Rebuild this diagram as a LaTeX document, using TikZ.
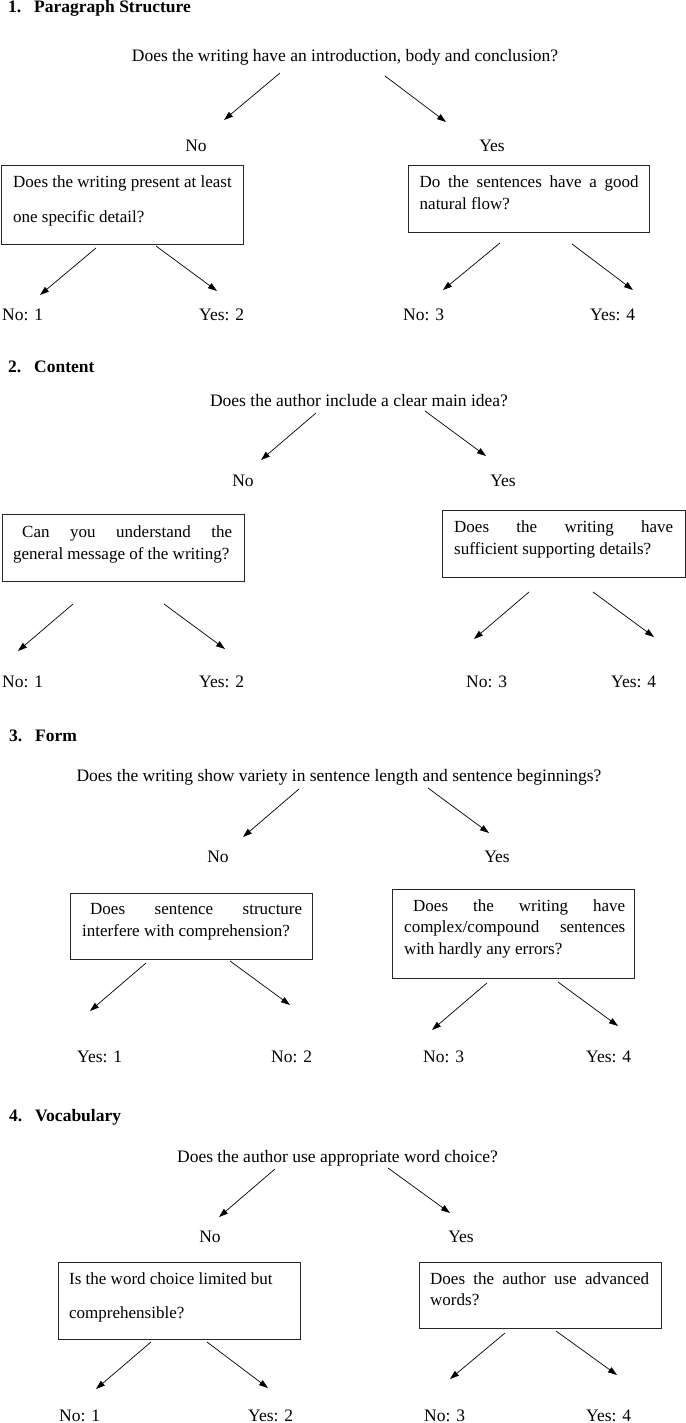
\documentclass[tikz,border=0pt]{standalone}
\usepackage{fontspec}
\setmainfont{Liberation Serif}
\usetikzlibrary{arrows.meta}
\begin{document}
\begin{tikzpicture}[x=1pt,y=-1pt,
  txt/.style={inner sep=0pt, font=\fontsize{17.5}{21}\selectfont},
  lbl/.style={txt, anchor=base},
  leaf/.style={txt, anchor=base west},
  ttl/.style={txt, anchor=base west, font=\fontsize{17.5}{21}\selectfont\bfseries},
  btxt/.style={inner sep=0pt, anchor=base west, font=\fontsize{17}{20}\selectfont},
  qbox/.style={draw=black!85, line width=1pt, inner sep=0pt},
  arr/.style={-{Triangle[length=9pt,width=6pt]}, line width=0.7pt}]
\useasboundingbox (0,0) rectangle (685,1423);
\fill[white] (0,0) rectangle (685,1423);

% ---------- Section 1 ----------
\node[ttl] (t1) at (8,13) {\makebox[26pt][l]{1.}Paragraph Structure};
\node[lbl] (q1) at (345,62) {Does the writing have an introduction, body and conclusion?};
\node[lbl] (n1) at (196,152) {No};
\node[lbl] (y1) at (492,152) {Yes};
\node[qbox, minimum width=242pt, minimum height=79pt] (b1L) at (122.5,205) {};
\node[btxt] (x1L) at (13,188) {\parbox[t]{219pt}{\baselineskip=34.5pt
  \hbox{Does the writing present at least}\hbox{one specific detail?}}};
\node[qbox, minimum width=241pt, minimum height=67pt] (b1R) at (528.5,199) {};
\node[btxt] (x1R) at (419.5,188) {\parbox[t]{219pt}{\baselineskip=21.5pt
  \hbox to\linewidth{Do\hfill the\hfill sentences\hfill have\hfill a\hfill good}\hbox{natural flow?}}};
\node[leaf] (l11) at (2,320) {No: 1};
\node[leaf] (l12) at (199,320) {Yes: 2};
\node[leaf] (l13) at (403,320) {No: 3};
\node[leaf] (l14) at (590,320) {Yes: 4};

% ---------- Section 2 ----------
\node[ttl] (t2) at (8,372) {\makebox[26pt][l]{2.}Content};
\node[lbl] (q2) at (359,406) {Does the author include a clear main idea?};
\node[lbl] (n2) at (243,486) {No};
\node[lbl] (y2) at (503,486) {Yes};
\node[qbox, minimum width=242pt, minimum height=67pt] (b2L) at (123,547.5) {};
\node[btxt] (x2L) at (13,537) {\parbox[t]{219pt}{\baselineskip=22pt
  \hbox to\linewidth{\hspace{9pt}Can\hfill you\hfill understand\hfill the}\hbox to\linewidth{general message of the writing?\hfill}}};
\node[qbox, minimum width=243pt, minimum height=67pt] (b2R) at (563.5,543.5) {};
\node[btxt] (x2R) at (454,532) {\parbox[t]{219pt}{\baselineskip=22pt
  \hbox to\linewidth{Does\hfill the\hfill writing\hfill have}\hbox{sufficient supporting details?}}};
\node[leaf] (l21) at (2,687) {No: 1};
\node[leaf] (l22) at (199,687) {Yes: 2};
\node[leaf] (l23) at (466,687) {No: 3};
\node[leaf] (l24) at (611,687) {Yes: 4};

% ---------- Section 3 ----------
\node[ttl] (t3) at (9,741) {\makebox[26pt][l]{3.}Form};
\node[lbl] (q3) at (339,781) {Does the writing show variety in sentence length and sentence beginnings?};
\node[lbl] (n3) at (218,862) {No};
\node[lbl] (y3) at (497,862) {Yes};
\node[qbox, minimum width=242pt, minimum height=66pt] (b3L) at (191.7,926) {};
\node[btxt] (x3L) at (82,914) {\parbox[t]{220pt}{\baselineskip=22pt
  \hbox to\linewidth{\hspace{8pt}Does\hfill sentence\hfill structure}\hbox{interfere with comprehension?}}};
\node[qbox, minimum width=241.5pt, minimum height=89pt] (b3R) at (513.5,933.5) {};
\node[btxt] (x3R) at (404,911) {\parbox[t]{221pt}{\baselineskip=21.5pt
  \hbox to\linewidth{\hspace{9pt}Does\hfill the\hfill writing\hfill have}\hbox to\linewidth{complex/compound\hfill sentences}\hbox{with hardly any errors?}}};
\node[leaf] (l31) at (77,1062) {Yes: 1};
\node[leaf] (l32) at (271,1062) {No: 2};
\node[leaf] (l33) at (423,1062) {No: 3};
\node[leaf] (l34) at (586,1062) {Yes: 4};

% ---------- Section 4 ----------
\node[ttl] (t4) at (9,1121) {\makebox[26pt][l]{4.}Vocabulary};
\node[lbl] (q4) at (337.5,1162) {Does the author use appropriate word choice?};
\node[lbl] (n4) at (210,1242) {No};
\node[lbl] (y4) at (461,1242) {Yes};
\node[qbox, minimum width=242pt, minimum height=77pt] (b4L) at (179.8,1300.5) {};
\node[btxt] (x4L) at (69,1284) {\parbox[t]{220pt}{\baselineskip=34pt
  \hbox{Is the word choice limited but}\hbox{comprehensible?}}};
\node[qbox, minimum width=242pt, minimum height=66pt] (b4R) at (540,1295) {};
\node[btxt] (x4R) at (430,1284) {\parbox[t]{219pt}{\baselineskip=21.5pt
  \hbox to\linewidth{Does\hfill the\hfill author\hfill use\hfill advanced}\hbox{words?}}};
\node[leaf] (l41) at (59,1421) {No: 1};
\node[leaf] (l42) at (248,1421) {Yes: 2};
\node[leaf] (l43) at (424,1421) {No: 3};
\node[leaf] (l44) at (586,1421) {Yes: 4};

% ---------- Arrows ----------
\foreach \n/\xa/\ya/\xb/\yb in {
  a11/280/73/224/120, a12/385/76/446/122, a13/96/248/40/295, a14/156/246/217/291, a15/500/243/443/290, a16/572/244/633/290,
  a21/316/413/261/460, a22/425/411/486/456, a23/73/604/18/651, a24/164/604/225/649, a25/529/592/474/639, a26/593/592/654/637,
  a31/299/789/243/837, a32/428/788/489/833, a33/146/963/90/1011, a34/230/961/290/1005, a35/487/983/432/1030, a36/558/982/618/1026,
  a41/275/1169/219/1217, a42/388/1168/450/1213, a43/151/1342/96/1389, a44/207/1342/268/1388, a45/505/1333/450/1379, a46/556/1331/617/1375}
{
  \coordinate (\n s) at (\xa,\ya);
  \coordinate (\n e) at (\xb,\yb);
  \draw[arr] (\n s) -- (\n e);
}
\end{tikzpicture}
\end{document}
